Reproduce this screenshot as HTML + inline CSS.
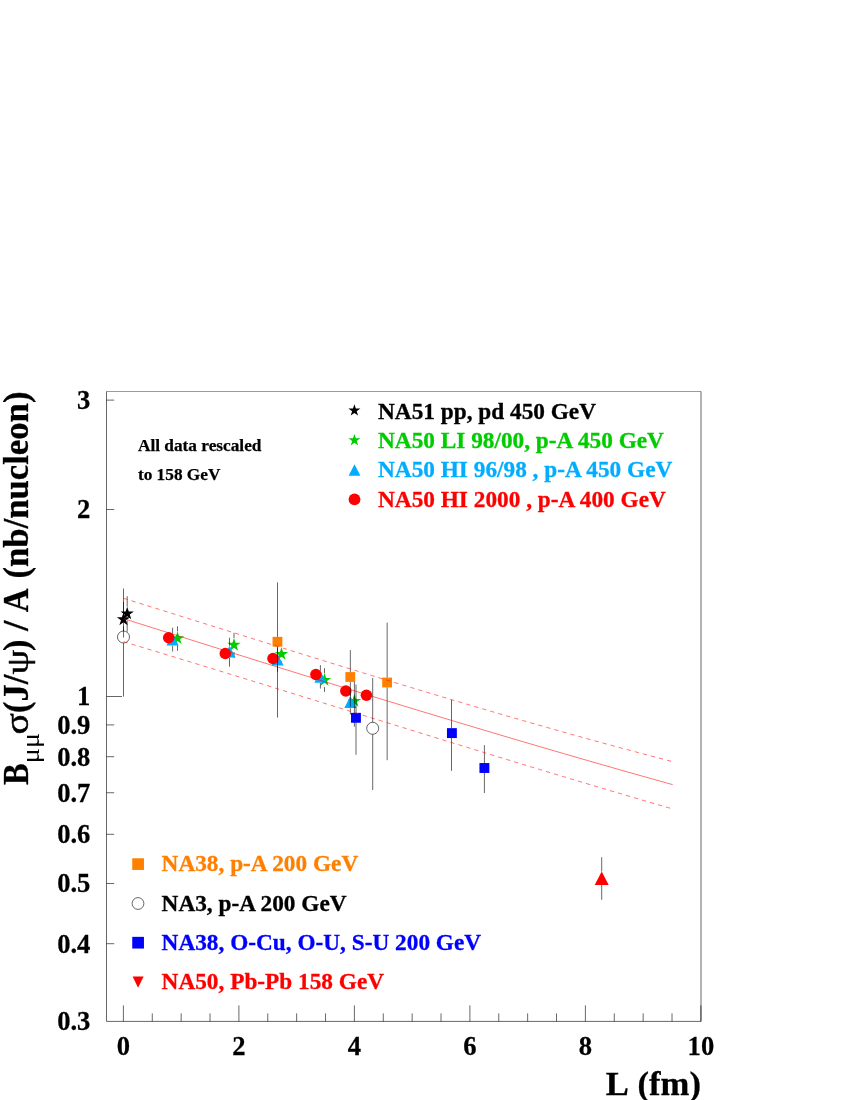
<!DOCTYPE html>
<html><head><meta charset="utf-8"><title>J/psi cross-section vs L</title>
<style>
html,body{margin:0;padding:0;background:#fff;}
svg{display:block;will-change:transform;}
text{font-family:"Liberation Serif",serif;font-weight:bold;}
.tk{stroke:#000;stroke-width:0.25px;}
.g{font-weight:normal;}
.gs{stroke:#000;stroke-width:0.5px;}
</style></head><body>
<svg width="850" height="1100" viewBox="0 0 850 1100">
<rect width="850" height="1100" fill="#fff"/>
<g stroke="#000" stroke-width="0.6" fill="none" stroke-linecap="butt">
<path d="M701.0 391.5V1021.4H106.5V391.5"/>
<path d="M106.5 391.5H701.0" stroke-width="0.4"/>
<path d="M123.40 1021.4v-16M152.28 1021.4v-8M181.15 1021.4v-8M210.03 1021.4v-8M238.90 1021.4v-16M267.77 1021.4v-8M296.65 1021.4v-8M325.52 1021.4v-8M354.40 1021.4v-16M383.27 1021.4v-8M412.15 1021.4v-8M441.02 1021.4v-8M469.90 1021.4v-16M498.77 1021.4v-8M527.65 1021.4v-8M556.52 1021.4v-8M585.40 1021.4v-16M614.27 1021.4v-8M643.15 1021.4v-8M672.02 1021.4v-8M700.90 1021.4v-16"/>
<path d="M106.5 943.70h7.7M106.5 883.50h7.7M106.5 834.31h7.7M106.5 792.73h7.7M106.5 756.70h7.7M106.5 724.92h7.7M106.5 696.50h15.5M106.5 509.50h7.7M106.5 400.11h7.7"/>
</g>
<text transform="translate(123.4 1055.0) scale(1 1.045)" font-size="26.6" text-anchor="middle" fill="#000" class="tk">0</text>
<text transform="translate(238.9 1055.0) scale(1 1.045)" font-size="26.6" text-anchor="middle" fill="#000" class="tk">2</text>
<text transform="translate(354.4 1055.0) scale(1 1.045)" font-size="26.6" text-anchor="middle" fill="#000" class="tk">4</text>
<text transform="translate(469.9 1055.0) scale(1 1.045)" font-size="26.6" text-anchor="middle" fill="#000" class="tk">6</text>
<text transform="translate(585.4 1055.0) scale(1 1.045)" font-size="26.6" text-anchor="middle" fill="#000" class="tk">8</text>
<text transform="translate(700.9 1055.0) scale(1 1.045)" font-size="26.6" text-anchor="middle" fill="#000" class="tk">10</text>
<text transform="translate(90.4 409.0) scale(1 1.045)" font-size="26.6" text-anchor="end" fill="#000" class="tk">3</text>
<text transform="translate(90.4 518.4) scale(1 1.045)" font-size="26.6" text-anchor="end" fill="#000" class="tk">2</text>
<text transform="translate(90.4 705.4) scale(1 1.045)" font-size="26.6" text-anchor="end" fill="#000" class="tk">1</text>
<text transform="translate(90.4 733.8) scale(1 1.045)" font-size="26.6" text-anchor="end" fill="#000" class="tk">0.9</text>
<text transform="translate(90.4 765.6) scale(1 1.045)" font-size="26.6" text-anchor="end" fill="#000" class="tk">0.8</text>
<text transform="translate(90.4 801.6) scale(1 1.045)" font-size="26.6" text-anchor="end" fill="#000" class="tk">0.7</text>
<text transform="translate(90.4 843.2) scale(1 1.045)" font-size="26.6" text-anchor="end" fill="#000" class="tk">0.6</text>
<text transform="translate(90.4 892.4) scale(1 1.045)" font-size="26.6" text-anchor="end" fill="#000" class="tk">0.5</text>
<text transform="translate(90.4 952.6) scale(1 1.045)" font-size="26.6" text-anchor="end" fill="#000" class="tk">0.4</text>
<text transform="translate(90.4 1030.2) scale(1 1.045)" font-size="26.6" text-anchor="end" fill="#000" class="tk">0.3</text>
<text transform="translate(700.9 1095.2) scale(1 1)" font-size="34.6" text-anchor="end" fill="#000" stroke="#000" stroke-width="0.3" style="word-spacing:2px">L (fm)</text>
<g transform="translate(28.0 785) rotate(-90)" font-size="34.45" stroke="#000" stroke-width="0.3">
<text transform="scale(0.94 1.03)">B</text>
<text class="g" stroke="none" transform="translate(21.8 10.65) scale(1.13 1)" font-size="25">μμ</text>
<text class="g gs" transform="translate(50.6 0) scale(1.15 1)">σ</text>
<text transform="translate(72.1 0) scale(1 1.03)">(J/</text>
<text class="g gs" transform="translate(110.5 0.4) scale(1.145 0.94)">ψ</text>
<text transform="translate(134.0 0) scale(1 1.03)">)</text>
<text transform="translate(154.0 0) scale(1.08 1.03)">/</text>
<text transform="translate(172.8 0) scale(0.955 1.03)">A</text>
<text transform="translate(206.45 0) scale(1 1.03)" font-size="34.7">(nb/nucleon)</text>
</g>
<text transform="translate(137.9 451.0) scale(1 1)" font-size="17.3" text-anchor="start" fill="#000" stroke="#000" stroke-width="0.25">All data rescaled</text>
<text transform="translate(137.9 480.0) scale(1 1)" font-size="17.3" text-anchor="start" fill="#000" stroke="#000" stroke-width="0.25">to 158 GeV</text>
<text transform="translate(378.0 418.7) scale(1 1.025)" font-size="23.3" text-anchor="start" fill="#000" stroke="#000" stroke-width="0.3">NA51 pp, pd 450 GeV</text>
<text transform="translate(378.0 447.7) scale(1 1.025)" font-size="23.3" text-anchor="start" fill="#00cc00" stroke="#00cc00" stroke-width="0.3">NA50 LI 98/00, p-A 450 GeV</text>
<text transform="translate(378.0 477.4) scale(1 1.025)" font-size="23.3" text-anchor="start" fill="#00adff" stroke="#00adff" stroke-width="0.3">NA50 HI 96/98 , p-A 450 GeV</text>
<text transform="translate(378.0 506.9) scale(1 1.025)" font-size="23.3" text-anchor="start" fill="#ff0000" stroke="#ff0000" stroke-width="0.3">NA50 HI 2000 , p-A 400 GeV</text>
<text transform="translate(161.6 871.4) scale(1 1.025)" font-size="23.3" text-anchor="start" fill="#ff8000" stroke="#ff8000" stroke-width="0.3">NA38, p-A 200 GeV</text>
<text transform="translate(161.6 910.7) scale(1 1.025)" font-size="23.3" text-anchor="start" fill="#000" stroke="#000" stroke-width="0.3">NA3, p-A 200 GeV</text>
<text transform="translate(161.6 949.7) scale(1 1.025)" font-size="23.3" text-anchor="start" fill="#0000ff" stroke="#0000ff" stroke-width="0.3">NA38, O-Cu, O-U, S-U 200 GeV</text>
<text transform="translate(161.6 989.0) scale(1 1.025)" font-size="23.3" text-anchor="start" fill="#ff0000" stroke="#ff0000" stroke-width="0.3">NA50, Pb-Pb 158 GeV</text>
<polygon points="354.40,404.20 355.81,408.55 360.39,408.55 356.69,411.24 358.10,415.60 354.40,412.91 350.70,415.60 352.11,411.24 348.41,408.55 352.99,408.55" fill="#000"/>
<polygon points="354.40,434.00 355.81,438.35 360.39,438.35 356.69,441.04 358.10,445.40 354.40,442.71 350.70,445.40 352.11,441.04 348.41,438.35 352.99,438.35" fill="#00cc00"/>
<polygon points="348.60,475.80 360.40,475.80 354.50,464.20" fill="#00adff"/>
<circle cx="354.50" cy="499.40" r="5.9" fill="#ff0000"/>
<rect x="132.25" y="858.25" width="11.7" height="11.7" fill="#ff8000"/>
<circle cx="138.00" cy="903.50" r="5.9" fill="none" stroke="#000" stroke-width="0.6"/>
<rect x="132.25" y="936.85" width="11.7" height="11.7" fill="#0000ff"/>
<polygon points="132.60,976.50 143.60,976.50 138.10,987.80" fill="#ff0000"/>
<polygon points="177.50,631.30 179.07,636.14 184.16,636.14 180.04,639.13 181.61,643.96 177.50,640.97 173.39,643.96 174.96,639.13 170.84,636.14 175.93,636.14" fill="#00cc00"/>
<polygon points="234.00,638.00 235.57,642.84 240.66,642.84 236.54,645.83 238.11,650.66 234.00,647.67 229.89,650.66 231.46,645.83 227.34,642.84 232.43,642.84" fill="#00cc00"/>
<polygon points="281.50,647.20 283.07,652.04 288.16,652.04 284.04,655.03 285.61,659.86 281.50,656.87 277.39,659.86 278.96,655.03 274.84,652.04 279.93,652.04" fill="#00cc00"/>
<polygon points="324.50,673.10 326.07,677.94 331.16,677.94 327.04,680.93 328.61,685.76 324.50,682.77 320.39,685.76 321.96,680.93 317.84,677.94 322.93,677.94" fill="#00cc00"/>
<polygon points="354.40,694.10 355.97,698.94 361.06,698.94 356.94,701.93 358.51,706.76 354.40,703.77 350.29,706.76 351.86,701.93 347.74,698.94 352.83,698.94" fill="#00cc00"/>
<path d="M177.50 626.30V631.30" stroke="#000" stroke-width="0.6" fill="none"/><path d="M177.50 645.30V650.80" stroke="#000" stroke-width="0.6" fill="none"/>
<path d="M234.00 632.80V638.00" stroke="#000" stroke-width="0.6" fill="none"/><path d="M234.00 652.00V658.10" stroke="#000" stroke-width="0.6" fill="none"/>
<path d="M281.50 661.20V662.00" stroke="#000" stroke-width="0.6" fill="none"/>
<path d="M324.50 668.20V673.10" stroke="#000" stroke-width="0.6" fill="none"/><path d="M324.50 687.10V691.90" stroke="#000" stroke-width="0.6" fill="none"/>

<polygon points="166.55,645.50 178.65,645.50 172.60,633.70" fill="#00adff"/>
<polygon points="223.45,657.60 235.55,657.60 229.50,645.80" fill="#00adff"/>
<polygon points="271.45,665.40 283.55,665.40 277.50,653.60" fill="#00adff"/>
<polygon points="314.35,682.70 326.45,682.70 320.40,670.90" fill="#00adff"/>
<polygon points="344.35,707.90 356.45,707.90 350.40,696.10" fill="#00adff"/>
<path d="M172.60 627.70V633.70" stroke="#000" stroke-width="0.6" fill="none"/><path d="M172.60 645.80V651.50" stroke="#000" stroke-width="0.6" fill="none"/>
<path d="M229.50 637.70V645.80" stroke="#000" stroke-width="0.6" fill="none"/><path d="M229.50 657.90V666.70" stroke="#000" stroke-width="0.6" fill="none"/>
<path d="M277.50 647.80V653.60" stroke="#000" stroke-width="0.6" fill="none"/><path d="M277.50 665.70V671.80" stroke="#000" stroke-width="0.6" fill="none"/>
<path d="M320.40 665.10V670.90" stroke="#000" stroke-width="0.6" fill="none"/><path d="M320.40 683.00V688.60" stroke="#000" stroke-width="0.6" fill="none"/>
<path d="M350.40 690.30V696.10" stroke="#000" stroke-width="0.6" fill="none"/><path d="M350.40 708.20V714.60" stroke="#000" stroke-width="0.6" fill="none"/>
<circle cx="168.70" cy="637.70" r="5.75" fill="#ff0000"/>
<circle cx="225.30" cy="653.50" r="5.75" fill="#ff0000"/>
<circle cx="273.00" cy="658.50" r="5.75" fill="#ff0000"/>
<circle cx="315.90" cy="674.50" r="5.75" fill="#ff0000"/>
<circle cx="345.80" cy="691.00" r="5.75" fill="#ff0000"/>
<circle cx="366.40" cy="695.30" r="5.75" fill="#ff0000"/>
<polygon points="123.50,612.50 125.07,617.34 130.16,617.34 126.04,620.33 127.61,625.16 123.50,622.17 119.39,625.16 120.96,620.33 116.84,617.34 121.93,617.34" fill="#000"/>
<polygon points="127.20,606.70 128.77,611.54 133.86,611.54 129.74,614.53 131.31,619.36 127.20,616.37 123.09,619.36 124.66,614.53 120.54,611.54 125.63,611.54" fill="#000"/>
<path d="M123.50 602.00V612.50" stroke="#000" stroke-width="0.6" fill="none"/><path d="M123.50 626.50V637.60" stroke="#000" stroke-width="0.6" fill="none"/>
<path d="M127.20 596.20V606.70" stroke="#000" stroke-width="0.6" fill="none"/><path d="M127.20 620.70V631.70" stroke="#000" stroke-width="0.6" fill="none"/>
<path d="M354.40 680.00V726.70" stroke="#000" stroke-width="0.6" fill="none"/>
<rect x="272.55" y="636.85" width="9.8" height="9.8" fill="#ff8000"/>
<rect x="345.40" y="672.10" width="9.8" height="9.8" fill="#ff8000"/>
<rect x="382.20" y="677.60" width="9.8" height="9.8" fill="#ff8000"/>
<path d="M277.50 582.40V636.85" stroke="#000" stroke-width="0.6" fill="none"/><path d="M277.50 646.65V717.60" stroke="#000" stroke-width="0.6" fill="none"/>
<path d="M350.35 650.10V672.10" stroke="#000" stroke-width="0.6" fill="none"/><path d="M350.35 681.90V706.80" stroke="#000" stroke-width="0.6" fill="none"/>
<path d="M387.15 622.60V677.60" stroke="#000" stroke-width="0.6" fill="none"/><path d="M387.15 687.40V760.20" stroke="#000" stroke-width="0.6" fill="none"/>
<circle cx="123.50" cy="637.00" r="6.0" fill="none" stroke="#000" stroke-width="0.6"/>
<path d="M123.50 588.50V631.00" stroke="#000" stroke-width="0.6" fill="none"/><path d="M123.50 643.00V696.60" stroke="#000" stroke-width="0.6" fill="none"/>
<circle cx="372.70" cy="728.30" r="6.0" fill="none" stroke="#000" stroke-width="0.6"/>
<path d="M372.70 678.00V722.30" stroke="#000" stroke-width="0.6" fill="none"/><path d="M372.70 734.30V790.00" stroke="#000" stroke-width="0.6" fill="none"/>
<rect x="351.00" y="712.85" width="9.9" height="9.9" fill="#0000ff"/>
<rect x="446.95" y="728.15" width="9.9" height="9.9" fill="#0000ff"/>
<rect x="479.45" y="763.05" width="9.9" height="9.9" fill="#0000ff"/>
<path d="M356.00 684.50V712.85" stroke="#000" stroke-width="0.6" fill="none"/><path d="M356.00 722.75V754.80" stroke="#000" stroke-width="0.6" fill="none"/>
<path d="M451.50 699.70V728.15" stroke="#000" stroke-width="0.6" fill="none"/><path d="M451.50 738.05V770.90" stroke="#000" stroke-width="0.6" fill="none"/>
<path d="M484.40 745.10V763.05" stroke="#000" stroke-width="0.6" fill="none"/><path d="M484.40 772.95V793.00" stroke="#000" stroke-width="0.6" fill="none"/>
<polygon points="594.70,884.90 608.70,884.90 601.70,871.50" fill="#ff0000"/>
<path d="M601.70 857.20V871.50" stroke="#000" stroke-width="0.6" fill="none"/><path d="M601.70 884.90V899.80" stroke="#000" stroke-width="0.6" fill="none"/>
<g stroke="#ff0000" stroke-width="0.55" fill="none">
<path d="M123.5 618.60 L131.5 621.13 L139.5 623.66 L147.5 626.19 L155.5 628.72 L163.5 631.24 L171.5 633.76 L179.5 636.29 L187.5 638.81 L195.5 641.33 L203.5 643.84 L211.5 646.36 L219.5 648.87 L227.5 651.38 L235.5 653.89 L243.5 656.40 L251.5 658.90 L259.5 661.40 L267.5 663.90 L275.5 666.40 L283.5 668.89 L291.5 671.38 L299.5 673.87 L307.5 676.35 L315.5 678.83 L323.5 681.31 L331.5 683.78 L339.5 686.25 L347.5 688.72 L355.5 691.18 L363.5 693.64 L371.5 696.09 L379.5 698.54 L387.5 700.99 L395.5 703.43 L403.5 705.87 L411.5 708.30 L419.5 710.73 L427.5 713.16 L435.5 715.58 L443.5 717.99 L451.5 720.40 L459.5 722.80 L467.5 725.20 L475.5 727.60 L483.5 729.99 L491.5 732.37 L499.5 734.75 L507.5 737.12 L515.5 739.48 L523.5 741.84 L531.5 744.20 L539.5 746.55 L547.5 748.89 L555.5 751.22 L563.5 753.55 L571.5 755.88 L579.5 758.19 L587.5 760.50 L595.5 762.80 L603.5 765.10 L611.5 767.39 L619.5 769.67 L627.5 771.94 L635.5 774.21 L643.5 776.47 L651.5 778.72 L659.5 780.97 L667.5 783.20 L672.7 784.65"/>
<path d="M123.5 598.28 L131.5 600.77 L139.5 603.27 L147.5 605.77 L155.5 608.26 L163.5 610.76 L171.5 613.26 L179.5 615.77 L187.5 618.27 L195.5 620.77 L203.5 623.28 L211.5 625.78 L219.5 628.28 L227.5 630.79 L235.5 633.29 L243.5 635.79 L251.5 638.29 L259.5 640.79 L267.5 643.28 L275.5 645.78 L283.5 648.27 L291.5 650.76 L299.5 653.24 L307.5 655.73 L315.5 658.21 L323.5 660.69 L331.5 663.16 L339.5 665.63 L347.5 668.09 L355.5 670.55 L363.5 673.01 L371.5 675.46 L379.5 677.90 L387.5 680.34 L395.5 682.78 L403.5 685.21 L411.5 687.63 L419.5 690.04 L427.5 692.45 L435.5 694.85 L443.5 697.24 L451.5 699.63 L459.5 702.01 L467.5 704.38 L475.5 706.74 L483.5 709.09 L491.5 711.44 L499.5 713.78 L507.5 716.10 L515.5 718.42 L523.5 720.73 L531.5 723.02 L539.5 725.31 L547.5 727.58 L555.5 729.85 L563.5 732.10 L571.5 734.35 L579.5 736.58 L587.5 738.80 L595.5 741.01 L603.5 743.20 L611.5 745.38 L619.5 747.55 L627.5 749.71 L635.5 751.85 L643.5 753.98 L651.5 756.10 L659.5 758.20 L667.5 760.29 L672.7 761.64" stroke-dasharray="4.3 4.04"/>
<path d="M123.5 641.67 L131.5 644.08 L139.5 646.50 L147.5 648.92 L155.5 651.34 L163.5 653.77 L171.5 656.21 L179.5 658.64 L187.5 661.09 L195.5 663.53 L203.5 665.98 L211.5 668.43 L219.5 670.89 L227.5 673.34 L235.5 675.80 L243.5 678.27 L251.5 680.73 L259.5 683.20 L267.5 685.67 L275.5 688.14 L283.5 690.61 L291.5 693.08 L299.5 695.56 L307.5 698.04 L315.5 700.51 L323.5 702.99 L331.5 705.47 L339.5 707.94 L347.5 710.42 L355.5 712.90 L363.5 715.38 L371.5 717.85 L379.5 720.33 L387.5 722.81 L395.5 725.28 L403.5 727.75 L411.5 730.22 L419.5 732.69 L427.5 735.16 L435.5 737.63 L443.5 740.09 L451.5 742.55 L459.5 745.01 L467.5 747.47 L475.5 749.92 L483.5 752.37 L491.5 754.82 L499.5 757.26 L507.5 759.70 L515.5 762.14 L523.5 764.57 L531.5 767.00 L539.5 769.42 L547.5 771.84 L555.5 774.25 L563.5 776.66 L571.5 779.07 L579.5 781.46 L587.5 783.86 L595.5 786.24 L603.5 788.63 L611.5 791.00 L619.5 793.37 L627.5 795.73 L635.5 798.09 L643.5 800.44 L651.5 802.78 L659.5 805.11 L667.5 807.44 L672.7 808.95" stroke-dasharray="4.3 4.04"/>
</g>
</svg></body></html>
